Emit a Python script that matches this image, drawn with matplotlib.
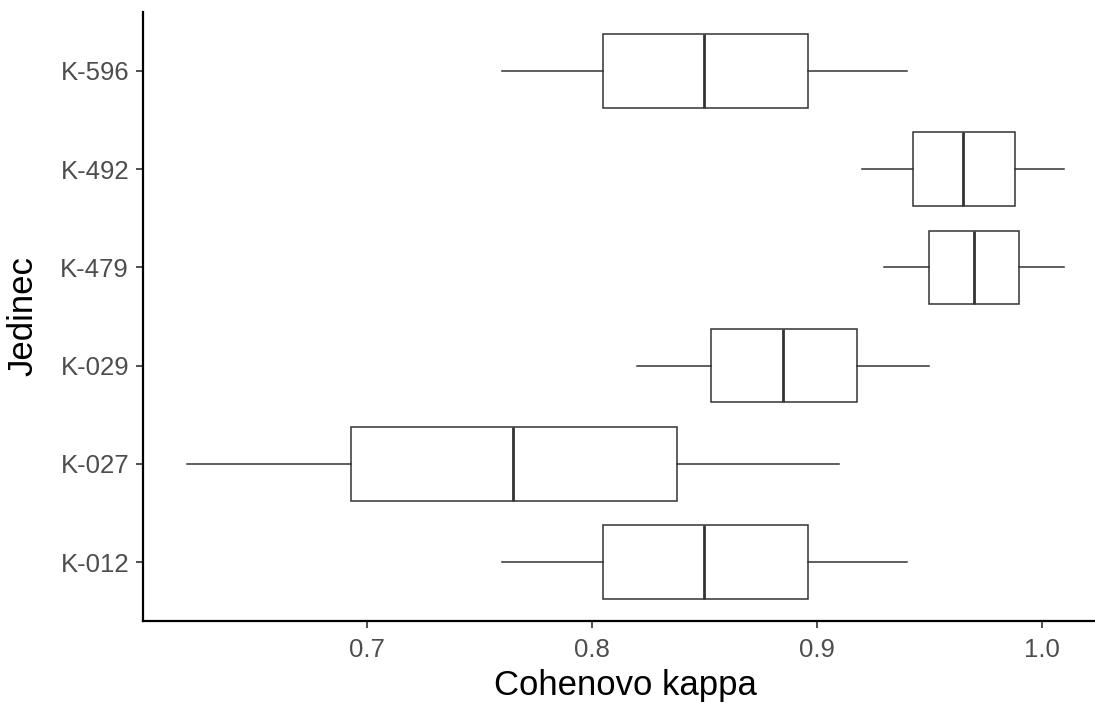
import matplotlib
matplotlib.use("Agg")
from matplotlib import pyplot as plt

# Boxplot statistics (whisker low, q1, median, q3, whisker high)
animals = ['K-012', 'K-027', 'K-029', 'K-479', 'K-492', 'K-596']
whisker_low = [0.760, 0.620, 0.820, 0.930, 0.920, 0.760]
q1 = [0.805, 0.693, 0.853, 0.950, 0.943, 0.805]
median = [0.850, 0.765, 0.885, 0.970, 0.965, 0.850]
q3 = [0.896, 0.838, 0.918, 0.990, 0.988, 0.896]
whisker_high = [0.940, 0.910, 0.950, 1.010, 1.010, 0.940]
x_ticks = [0.7, 0.8, 0.9, 1.0]

plt.rcParams['font.family'] = ['Liberation Sans', 'DejaVu Sans']

fig = plt.figure(figsize=(10.95, 7.03), dpi=100)
ax = fig.add_axes([143 / 1095, 82 / 703, 965 / 1095, 609 / 703])

stats = []
for i, name in enumerate(animals):
    stats.append({'label': name, 'whislo': whisker_low[i], 'q1': q1[i],
                  'med': median[i], 'q3': q3[i], 'whishi': whisker_high[i],
                  'fliers': []})

line_col = '#333333'
ax.bxp(stats, positions=range(1, len(animals) + 1), vert=False, widths=0.75,
       showcaps=False, showfliers=False, patch_artist=True,
       boxprops=dict(facecolor='white', edgecolor=line_col, linewidth=1.1),
       whiskerprops=dict(color=line_col, linewidth=1.1),
       medianprops=dict(color=line_col, linewidth=2.0))

# ggplot-style expansion
lo, hi = min(whisker_low), max(whisker_high)
pad = (hi - lo) * 0.05
ax.set_xlim(lo - pad, hi + pad)
ax.set_ylim(0.4, len(animals) + 0.6)

ax.set_xticks(x_ticks)
ax.set_xticklabels([f'{t:.1f}' for t in x_ticks])
ax.set_yticks(range(1, len(animals) + 1))
ax.set_yticklabels(animals)

ax.spines['top'].set_visible(False)
ax.spines['right'].set_visible(False)
for s in ['left', 'bottom']:
    ax.spines[s].set_linewidth(1.6)
    ax.spines[s].set_color('black')

ax.tick_params(axis='both', length=5, width=1.2, color='#333333',
               labelcolor='#4D4D4D', labelsize=18.5)
ax.tick_params(axis='y', pad=5)
ax.tick_params(axis='x', pad=7.5)

ax.set_xlabel('Cohenovo kappa', fontsize=25, color='black', va='baseline')
ax.xaxis.set_label_coords(0.5, -0.121)
ax.set_ylabel('Jedinec', fontsize=25, color='black', va='center')
ax.yaxis.set_label_coords(-0.124, 0.5)

fig.savefig('out.png', dpi=100)
